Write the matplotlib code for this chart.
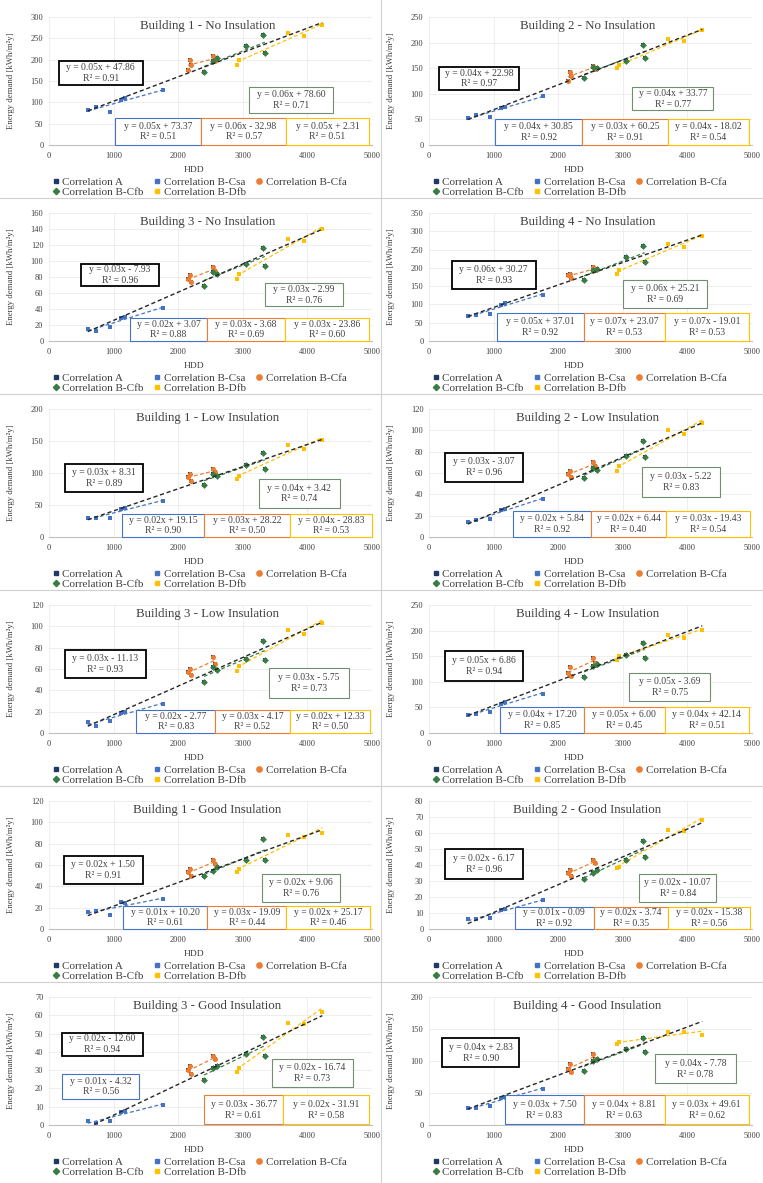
import matplotlib
matplotlib.use('Agg')
import matplotlib.pyplot as plt
import numpy as np
from matplotlib.patches import Rectangle
from matplotlib.lines import Line2D

plt.rcParams['font.family'] = ['Liberation Serif', 'DejaVu Serif']

# ---------------- data ----------------
TITLES = ["Building 1 - No Insulation", "Building 2 - No Insulation",
          "Building 3 - No Insulation", "Building 4 - No Insulation",
          "Building 1 - Low Insulation", "Building 2 - Low Insulation",
          "Building 3 - Low Insulation", "Building 4 - Low Insulation",
          "Building 1 - Good Insulation", "Building 2 - Good Insulation",
          "Building 3 - Good Insulation", "Building 4 - Good Insulation"]
Y_MAX = [300, 250, 160, 350, 200, 120, 120, 250, 120, 80, 70, 200]
Y_STEP = [50, 50, 20, 50, 50, 20, 20, 50, 20, 10, 10, 50]
X_TICKS = [0, 1000, 2000, 3000, 4000, 5000]
SERIES = ["Correlation A", "Correlation B-Csa", "Correlation B-Cfa",
          "Correlation B-Cfb", "Correlation B-Dfb"]

CSA_HDD = [600, 730, 940, 1120, 1170, 1765]
CFA_HDD = [2150, 2180, 2200, 2540, 2565]
CFB_HDD = [2400, 2540, 2600, 3050, 3320, 3340]
DFB_HDD = [2910, 2940, 3700, 3940, 4230]

CSA_Y = [[82, 90, 78, 106, 109, 129],
         [53, 58, 55, 73, 75, 95],
         [15, 13, 17, 29, 30, 41],
         [67, 72, 74, 99, 103, 126],
         [29, 30, 29, 44, 46, 56],
         [14, 16, 17, 25, 26, 36],
         [10, 7, 11, 19, 20, 27],
         [35, 37, 41, 57, 60, 77],
         [16, 17, 13, 25, 24, 28],
         [6, 6, 7, 12, 12.5, 18],
         [2, 1, 2, 7, 7.5, 11],
         [26, 27, 29, 42, 43, 57]]
CFA_Y = [[176, 200, 188, 208, 196],
         [125, 143, 135, 155, 148],
         [77, 82, 74, 92, 88],
         [180, 184, 171, 202, 193],
         [94, 99, 88, 106, 101],
         [59, 62, 56, 70, 67],
         [57, 60, 54, 71, 65],
         [118, 128, 112, 147, 137],
         [53, 56, 50, 65, 61],
         [35, 37, 33, 43, 41],
         [30, 32, 28, 37.5, 36],
         [88, 95, 83, 111, 103]]
CFB_Y = [[172, 196, 204, 231, 258, 215],
         [130, 152, 150, 165, 195, 170],
         [69, 86, 84, 96, 116, 94],
         [166, 193, 198, 229, 260, 215],
         [81, 99, 96, 112, 132, 106],
         [55, 65, 63, 76, 90, 75],
         [48, 62, 59, 69, 86, 68],
         [110, 131, 134, 153, 175, 147],
         [50, 54, 58, 65, 84, 65],
         [31, 35, 37, 43, 55, 45],
         [24.5, 31, 32.5, 39, 48, 37.5],
         [85, 100, 103, 119, 136, 114]]
DFB_Y = [[188, 200, 262, 255, 282],
         [150, 157, 208, 203, 224],
         [78, 84, 128, 125, 140],
         [184, 193, 265, 258, 287],
         [91, 96, 143, 138, 151],
         [62, 67, 100, 97, 107],
         [58, 63, 97, 93, 103],
         [143, 150, 191, 185, 201],
         [53, 56, 88, 86, 90],
         [38, 39, 62, 61, 68],
         [29, 31, 56, 55, 62],
         [126, 129, 146, 145, 141]]

EQ_A = ["y = 0.05x + 47.86", "y = 0.04x + 22.98", "y = 0.03x - 7.93", "y = 0.06x + 30.27",
        "y = 0.03x + 8.31", "y = 0.03x - 3.07", "y = 0.03x - 11.13", "y = 0.05x + 6.86",
        "y = 0.02x + 1.50", "y = 0.02x - 6.17", "y = 0.02x - 12.60", "y = 0.04x + 2.83"]
R2_A = ["0.91", "0.97", "0.96", "0.93", "0.89", "0.96", "0.93", "0.94", "0.91", "0.96", "0.94", "0.90"]
EQ_CSA = ["y = 0.05x + 73.37", "y = 0.04x + 30.85", "y = 0.02x + 3.07", "y = 0.05x + 37.01",
          "y = 0.02x + 19.15", "y = 0.02x + 5.84", "y = 0.02x - 2.77", "y = 0.04x + 17.20",
          "y = 0.01x + 10.20", "y = 0.01x - 0.09", "y = 0.01x - 4.32", "y = 0.03x + 7.50"]
R2_CSA = ["0.51", "0.92", "0.88", "0.92", "0.90", "0.92", "0.83", "0.85", "0.61", "0.92", "0.56", "0.83"]
EQ_CFA = ["y = 0.06x - 32.98", "y = 0.03x + 60.25", "y = 0.03x - 3.68", "y = 0.07x + 23.07",
          "y = 0.03x + 28.22", "y = 0.02x + 6.44", "y = 0.03x - 4.17", "y = 0.05x + 6.00",
          "y = 0.03x - 19.09", "y = 0.02x - 3.74", "y = 0.03x - 36.77", "y = 0.04x + 8.81"]
R2_CFA = ["0.57", "0.91", "0.69", "0.53", "0.50", "0.40", "0.52", "0.45", "0.44", "0.35", "0.61", "0.63"]
EQ_CFB = ["y = 0.06x + 78.60", "y = 0.04x + 33.77", "y = 0.03x - 2.99", "y = 0.06x + 25.21",
          "y = 0.04x + 3.42", "y = 0.03x - 5.22", "y = 0.03x - 5.75", "y = 0.05x - 3.69",
          "y = 0.02x + 9.06", "y = 0.02x - 10.07", "y = 0.02x - 16.74", "y = 0.04x - 7.78"]
R2_CFB = ["0.71", "0.77", "0.76", "0.69", "0.74", "0.83", "0.73", "0.75", "0.76", "0.84", "0.73", "0.78"]
EQ_DFB = ["y = 0.05x + 2.31", "y = 0.04x - 18.02", "y = 0.03x - 23.86", "y = 0.07x - 19.01",
          "y = 0.04x - 28.83", "y = 0.03x - 19.43", "y = 0.02x + 12.33", "y = 0.04x + 42.14",
          "y = 0.02x + 25.17", "y = 0.02x - 15.38", "y = 0.02x - 31.91", "y = 0.03x + 49.61"]
R2_DFB = ["0.51", "0.54", "0.60", "0.53", "0.53", "0.54", "0.50", "0.51", "0.46", "0.56", "0.58", "0.62"]

# ---------------- layout / style ----------------
COL_A, COL_CSA, COL_CFA, COL_CFB, COL_DFB = '#203864', '#4472C4', '#ED7D31', '#3A7D44', '#FFC000'
BOX_EDGE = {'A': '#000000', 'Csa': '#4472C4', 'Cfa': '#ED7D31', 'Cfb': '#6F8F6F', 'Dfb': '#FFC000'}

BOXES = [
    {'A': (0.03, 0.47, 0.26, 0.19), 'Cfb': (0.62, 0.25, 0.26, 0.20),
     'Csa': (0.205, 0.0, 0.265, 0.21), 'Cfa': (0.47, 0.0, 0.265, 0.21), 'Dfb': (0.735, 0.0, 0.255, 0.21)},
    {'A': (0.03, 0.43, 0.25, 0.18), 'Cfb': (0.63, 0.27, 0.25, 0.18),
     'Csa': (0.205, 0.0, 0.27, 0.20), 'Cfa': (0.475, 0.0, 0.265, 0.20), 'Dfb': (0.74, 0.0, 0.25, 0.20)},
    {'A': (0.10, 0.43, 0.24, 0.17), 'Cfb': (0.67, 0.27, 0.24, 0.18),
     'Csa': (0.25, 0.0, 0.24, 0.18), 'Cfa': (0.49, 0.0, 0.24, 0.18), 'Dfb': (0.73, 0.0, 0.26, 0.18)},
    {'A': (0.07, 0.41, 0.26, 0.215), 'Cfb': (0.60, 0.26, 0.26, 0.22),
     'Csa': (0.21, 0.0, 0.27, 0.22), 'Cfa': (0.48, 0.0, 0.25, 0.22), 'Dfb': (0.73, 0.0, 0.26, 0.22)},
    {'A': (0.05, 0.35, 0.24, 0.22), 'Cfb': (0.65, 0.23, 0.25, 0.22),
     'Csa': (0.225, 0.0, 0.255, 0.18), 'Cfa': (0.48, 0.0, 0.265, 0.18), 'Dfb': (0.745, 0.0, 0.255, 0.18)},
    {'A': (0.05, 0.43, 0.24, 0.23), 'Cfb': (0.66, 0.31, 0.24, 0.24),
     'Csa': (0.26, 0.0, 0.24, 0.20), 'Cfa': (0.50, 0.0, 0.235, 0.20), 'Dfb': (0.735, 0.0, 0.26, 0.20)},
    {'A': (0.05, 0.43, 0.25, 0.22), 'Cfb': (0.68, 0.27, 0.25, 0.24),
     'Csa': (0.27, 0.0, 0.245, 0.18), 'Cfa': (0.515, 0.0, 0.23, 0.18), 'Dfb': (0.745, 0.0, 0.25, 0.18)},
    {'A': (0.05, 0.41, 0.24, 0.23), 'Cfb': (0.62, 0.25, 0.25, 0.22),
     'Csa': (0.22, 0.0, 0.26, 0.20), 'Cfa': (0.48, 0.0, 0.25, 0.20), 'Dfb': (0.73, 0.0, 0.26, 0.20)},
    {'A': (0.045, 0.35, 0.245, 0.22), 'Cfb': (0.66, 0.21, 0.24, 0.22),
     'Csa': (0.23, 0.0, 0.26, 0.18), 'Cfa': (0.49, 0.0, 0.245, 0.18), 'Dfb': (0.735, 0.0, 0.26, 0.18)},
    {'A': (0.05, 0.39, 0.24, 0.235), 'Cfb': (0.65, 0.21, 0.24, 0.22),
     'Csa': (0.265, 0.0, 0.245, 0.17), 'Cfa': (0.51, 0.0, 0.23, 0.17), 'Dfb': (0.74, 0.0, 0.255, 0.17)},
    {'A': (0.04, 0.54, 0.25, 0.18), 'Csa': (0.04, 0.20, 0.24, 0.20), 'Cfb': (0.69, 0.30, 0.25, 0.215),
     'Cfa': (0.48, 0.005, 0.245, 0.23), 'Dfb': (0.725, 0.005, 0.265, 0.23)},
    {'A': (0.04, 0.45, 0.24, 0.23), 'Cfb': (0.70, 0.325, 0.25, 0.23),
     'Csa': (0.235, 0.005, 0.245, 0.23), 'Cfa': (0.48, 0.005, 0.25, 0.23), 'Dfb': (0.73, 0.005, 0.26, 0.23)},
]

W, H = 763, 1183
fig = plt.figure(figsize=(W / 100, H / 100), dpi=100)
fig.patch.set_facecolor('white')

# panel separators
for r in range(1, 6):
    yp = 198 + (r - 1) * 196
    fig.add_artist(Line2D([0, 1], [1 - yp / H, 1 - yp / H], color='#D0D0D0', lw=0.8))
fig.add_artist(Line2D([381 / W, 381 / W], [0, 1], color='#D0D0D0', lw=0.8))


def trend(ax, xs, ys, color, lw=0.9, zorder=3):
    xs = np.asarray(xs, float)
    ys = np.asarray(ys, float)
    m, b = np.polyfit(xs, ys, 1)
    xx = np.array([xs.min(), xs.max()])
    ax.plot(xx, m * xx + b, color=color, lw=lw, ls=(0, (3, 2)), zorder=zorder)


for i in range(12):
    r, c = divmod(i, 2)
    left_px = 49 + c * 380
    top_px = 17 + r * 196
    ax = fig.add_axes([left_px / W, 1 - (top_px + 128) / H, 323 / W, 128 / H])

    xa = CSA_HDD + CFA_HDD + CFB_HDD + DFB_HDD
    ya = CSA_Y[i] + CFA_Y[i] + CFB_Y[i] + DFB_Y[i]

    ax.scatter(xa, ya, s=9, marker='s', color=COL_A, zorder=4, linewidths=0)
    ax.scatter(CSA_HDD, CSA_Y[i], s=11, marker='s', color=COL_CSA, zorder=5, linewidths=0)
    ax.scatter(CFA_HDD, CFA_Y[i], s=13, marker='o', color=COL_CFA, zorder=5, linewidths=0)
    ax.scatter(CFB_HDD, CFB_Y[i], s=12, marker='D', color=COL_CFB, zorder=5, linewidths=0)
    ax.scatter(DFB_HDD, DFB_Y[i], s=12, marker='s', color=COL_DFB, zorder=5, linewidths=0)

    trend(ax, CSA_HDD, CSA_Y[i], COL_CSA)
    trend(ax, CFA_HDD, CFA_Y[i], COL_CFA)
    trend(ax, CFB_HDD, CFB_Y[i], COL_CFB)
    trend(ax, DFB_HDD, DFB_Y[i], COL_DFB)
    trend(ax, xa, ya, '#262626', lw=1.0, zorder=6)

    ax.set_xlim(0, 5000)
    ax.set_ylim(0, Y_MAX[i])
    ax.set_xticks(X_TICKS)
    ax.set_yticks(np.arange(0, Y_MAX[i] + 1, Y_STEP[i]))
    ax.tick_params(axis='both', length=0, labelsize=6, colors='#404040')
    ax.tick_params(axis='x', pad=5)
    ax.tick_params(axis='y', pad=4)
    ax.grid(True, color='#E8E8E8', lw=0.5)
    ax.set_axisbelow(True)
    for s in ['top', 'right', 'left']:
        ax.spines[s].set_visible(False)
    ax.spines['bottom'].set_color('#BFBFBF')
    ax.spines['bottom'].set_linewidth(0.8)

    ax.set_xlabel('HDD', fontsize=6.8, color='#404040')
    ax.xaxis.set_label_coords(0.45, -0.165)
    ax.set_ylabel('Energy demand [kWh/m²y]', fontsize=6.3, color='#404040')
    ax.yaxis.set_label_coords(-0.105, 0.5)

    ax.text(0.49, 0.93, TITLES[i], transform=ax.transAxes, ha='center', va='center',
            fontsize=9.3, color='#404040', zorder=8)

    labels = {'A': (EQ_A[i], R2_A[i]), 'Csa': (EQ_CSA[i], R2_CSA[i]),
              'Cfa': (EQ_CFA[i], R2_CFA[i]), 'Cfb': (EQ_CFB[i], R2_CFB[i]),
              'Dfb': (EQ_DFB[i], R2_DFB[i])}
    for key, (x0, y0, w, h) in BOXES[i].items():
        lw = 1.3 if key == 'A' else 0.8
        ax.add_patch(Rectangle((x0, y0), w, h, transform=ax.transAxes, facecolor='white',
                               edgecolor=BOX_EDGE[key], lw=lw, zorder=9, clip_on=False))
        eq, r2 = labels[key]
        ax.text(x0 + w / 2, y0 + h / 2, f"{eq}\nR² = {r2}", transform=ax.transAxes,
                ha='center', va='center', fontsize=6.9, color='#404040',
                linespacing=1.25, zorder=10)

    handles = [
        Line2D([], [], ls='none', marker='s', color=COL_A, markersize=3.4),
        Line2D([], [], ls='none', marker='D', color=COL_CFB, markersize=3.2),
        Line2D([], [], ls='none', marker='s', color=COL_CSA, markersize=3.4),
        Line2D([], [], ls='none', marker='s', color=COL_DFB, markersize=3.4),
        Line2D([], [], ls='none', marker='o', color=COL_CFA, markersize=3.8),
    ]
    labs = [SERIES[0], SERIES[3], SERIES[1], SERIES[4], SERIES[2]]
    leg = ax.legend(handles, labs, loc='upper left', bbox_to_anchor=(0.01, -0.25),
                    ncol=3, frameon=False, fontsize=8.0, handlelength=0.7,
                    handletextpad=0.2, columnspacing=0.9, labelspacing=0.0,
                    borderaxespad=0, borderpad=0)
    for t in leg.get_texts():
        t.set_color('#404040')

fig.savefig('out.png', dpi=100, facecolor='white')
